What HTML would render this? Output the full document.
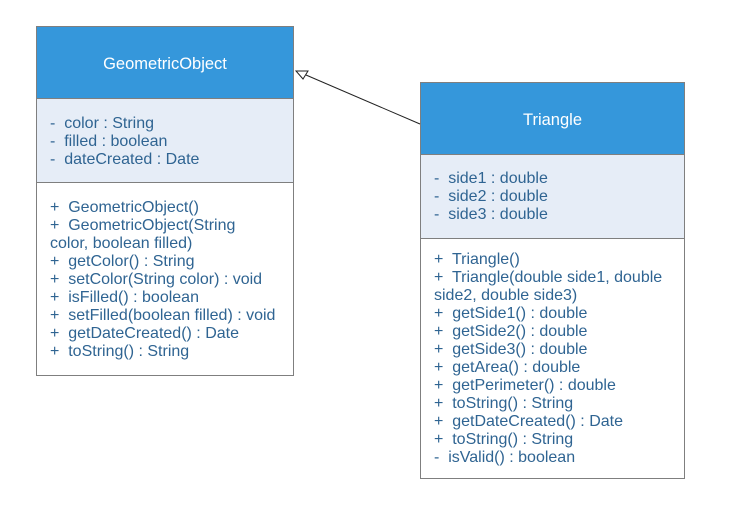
<!DOCTYPE html>
<html><head><style>
body{margin:0;width:731px;height:515px;background:#fff;position:relative;overflow:hidden;font-family:"Liberation Sans",sans-serif;}
.b{position:absolute;border:1px solid #7f7f7f;box-sizing:border-box;}
.h{background:#3597db;color:#fff;font-size:16.5px;text-align:center;}
.a{background:#e6edf7;}
.t{position:absolute;color:#2f6492;font-size:16px;line-height:18px;white-space:pre;}
</style></head><body>
<div class="b h" style="left:36px;top:26px;width:258px;height:73px;line-height:75px">GeometricObject</div>
<div class="b a" style="left:36px;top:98px;width:258px;height:85px"></div>
<div class="b" style="left:36px;top:182px;width:258px;height:194px"></div>
<div class="t" style="left:50px;top:115px">-  color : String
-  filled : boolean
-  dateCreated : Date</div>
<div class="t" style="left:50px;top:199px">+  GeometricObject()
+  GeometricObject(String
color, boolean filled)
+  getColor() : String
+  setColor(String color) : void
+  isFilled() : boolean
+  setFilled(boolean filled) : void
+  getDateCreated() : Date
+  toString() : String</div>
<div class="b h" style="left:420px;top:82px;width:265px;height:73px;line-height:75px">Triangle</div>
<div class="b a" style="left:420px;top:154px;width:265px;height:85px"></div>
<div class="b" style="left:420px;top:238px;width:265px;height:241px"></div>
<div class="t" style="left:434px;top:170px">-  side1 : double
-  side2 : double
-  side3 : double</div>
<div class="t" style="left:434px;top:251px">+  Triangle()
+  Triangle(double side1, double
side2, double side3)
+  getSide1() : double
+  getSide2() : double
+  getSide3() : double
+  getArea() : double
+  getPerimeter() : double
+  toString() : String
+  getDateCreated() : Date
+  toString() : String
-  isValid() : boolean</div>
<svg style="position:absolute;left:0;top:0" width="731" height="515">
<line x1="420" y1="124" x2="306" y2="75" stroke="#222" stroke-width="1"/>
<polygon points="296,71 308,71 303,79" fill="#fff" stroke="#222" stroke-width="1"/>
</svg>
</body></html>
